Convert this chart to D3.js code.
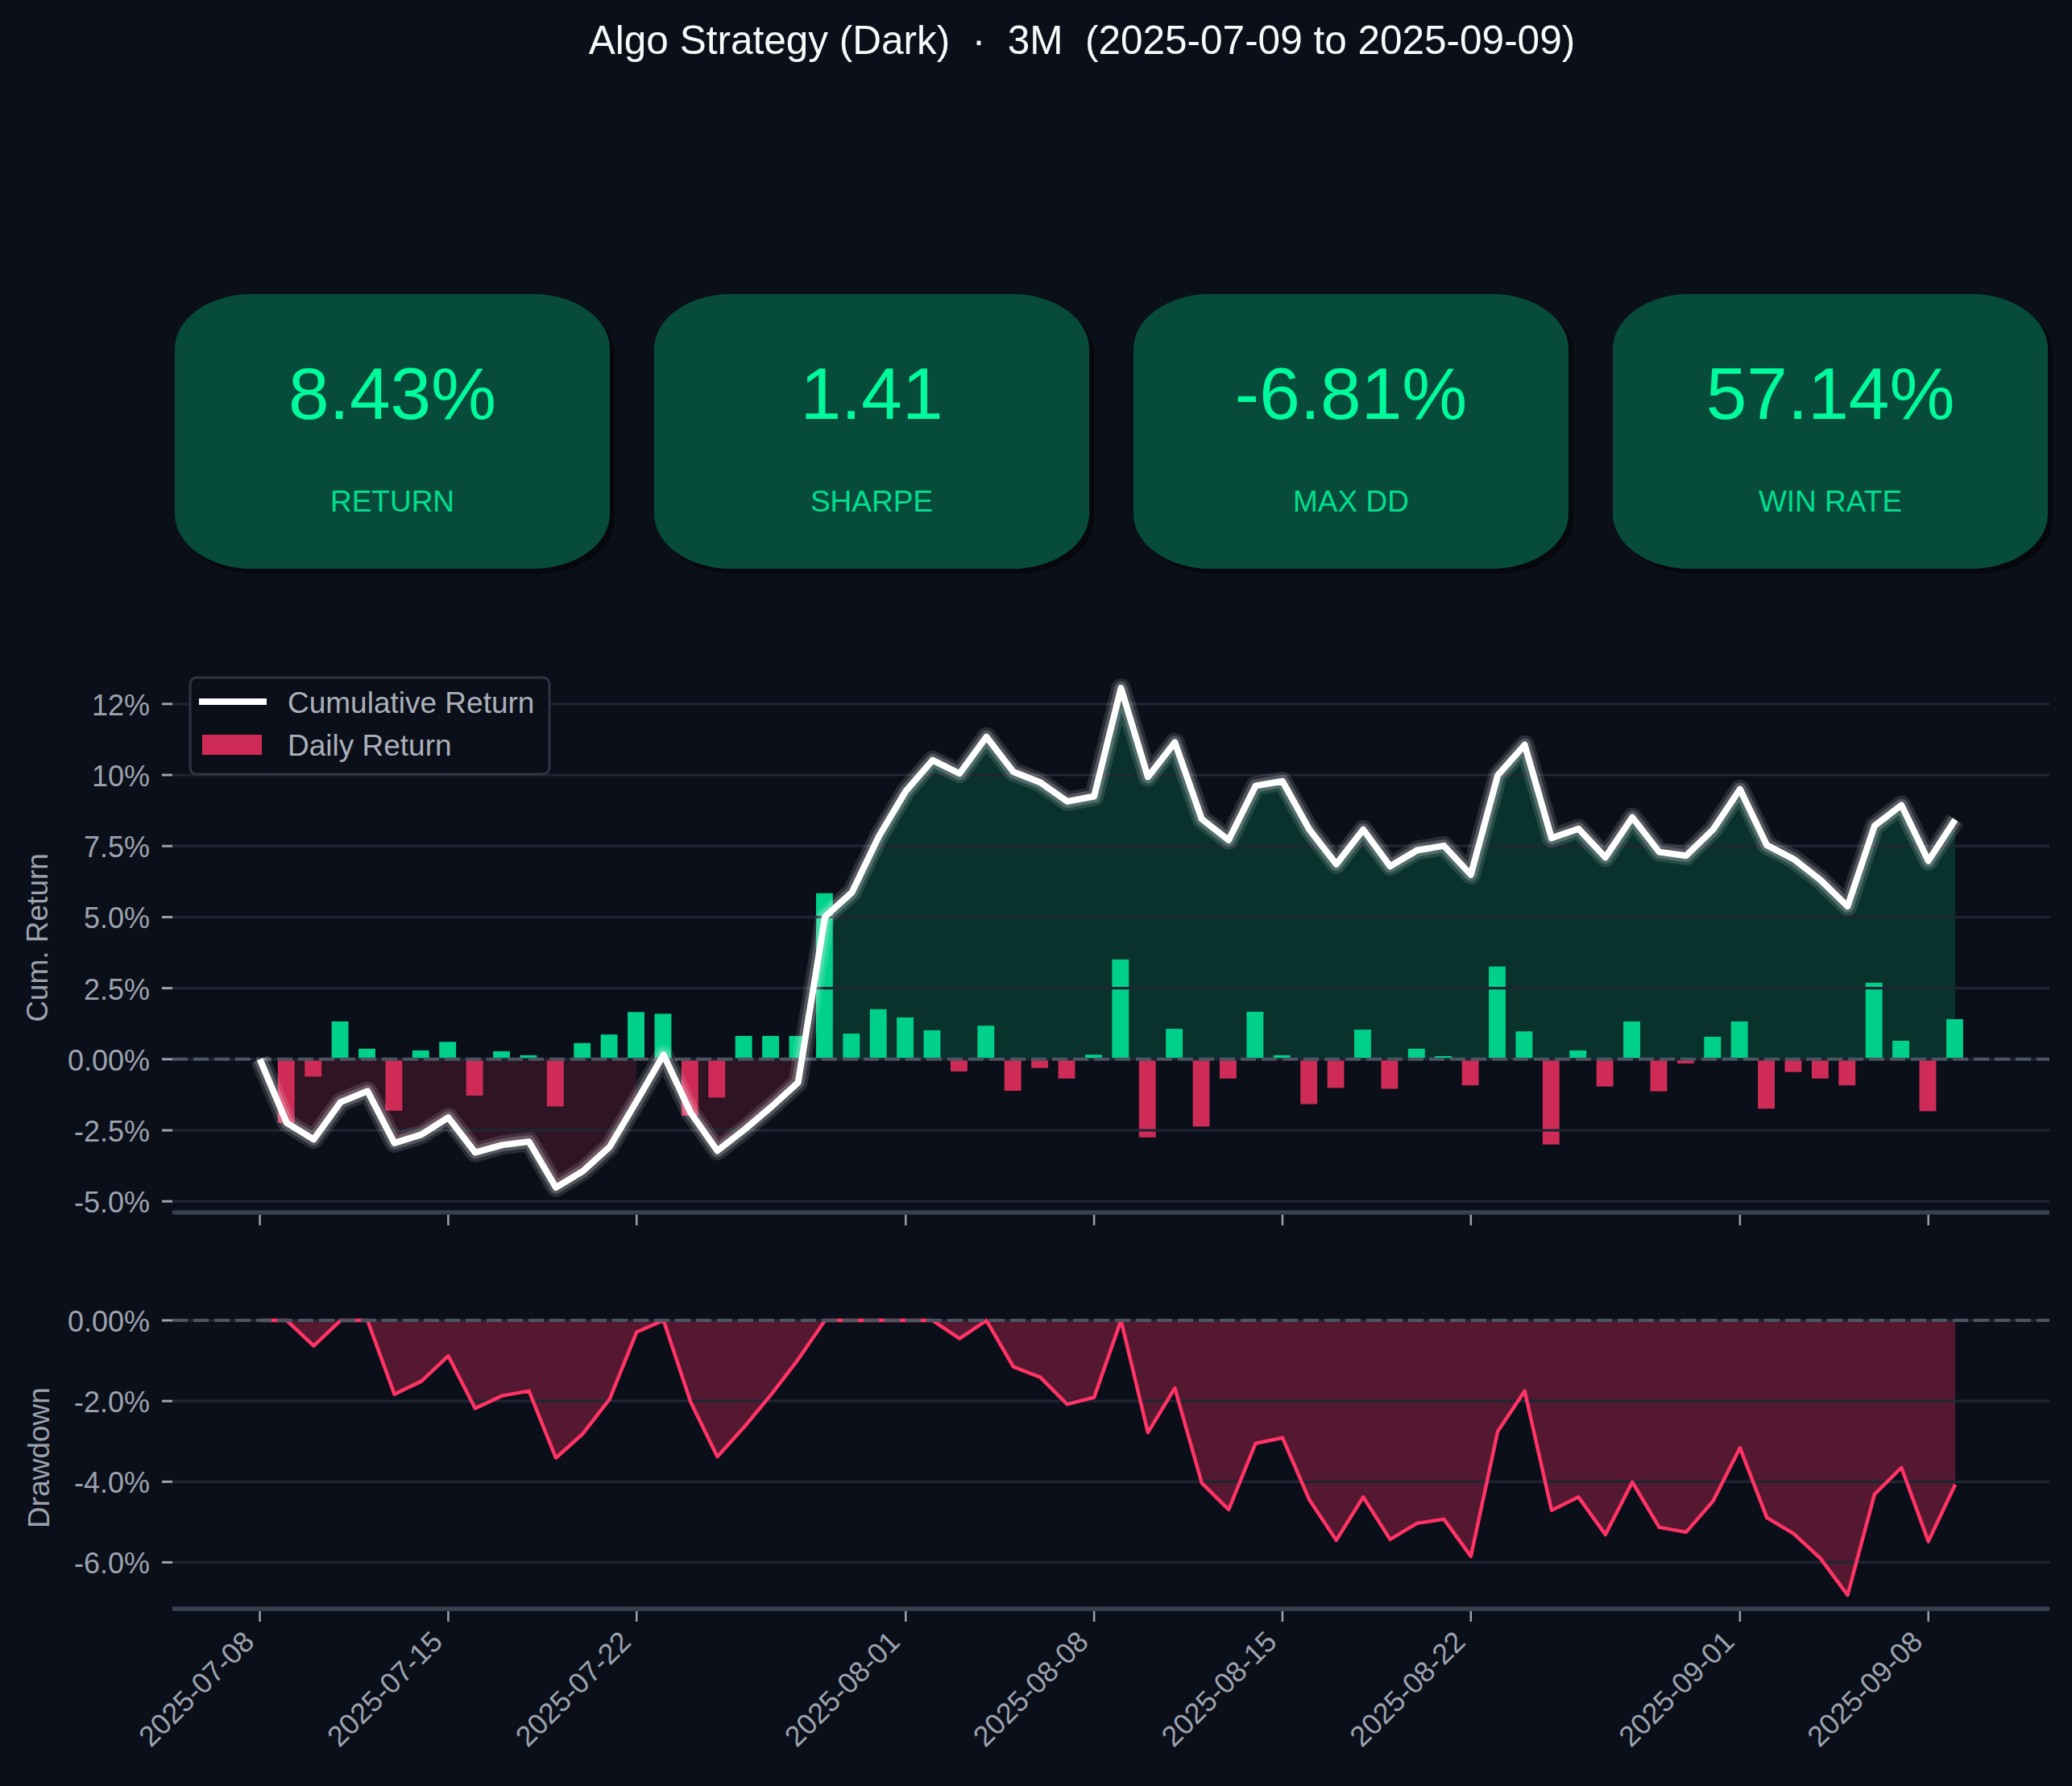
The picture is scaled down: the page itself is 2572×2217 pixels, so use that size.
<!DOCTYPE html>
<html>
<head>
<meta charset="utf-8">
<script src="https://cdn.jsdelivr.net/npm/d3@7"></script>
<style>
  html, body { margin: 0; padding: 0; background: #0b0f19; }
  svg { display: block; font-family: "Liberation Sans", Arial, Helvetica, sans-serif; }
</style>
</head>
<body>
<div id="chart"></div>
<script>
  const title = "Algo Strategy (Dark)  ·  3M  (2025-07-09 to 2025-09-09)";
  const startDate = "2025-07-08";
  const endDate = "2025-09-09";

  // cumulative return, %, one value per calendar day
  const cumReturn = [
    0.00, -2.24, -2.82, -1.51, -1.12, -2.95, -2.65, -2.05, -3.28, -3.02,
    -2.90, -4.51, -3.94, -3.08, -1.48, 0.16, -1.87, -3.22, -2.48, -1.68,
    -0.82, 5.01, 5.87, 7.84, 9.43, 10.52, 10.05, 11.34, 10.11, 9.74,
    9.07, 9.25, 13.06, 9.93, 11.15, 8.45, 7.71, 9.62, 9.78, 8.08,
    6.86, 8.08, 6.79, 7.35, 7.51, 6.49, 9.99, 11.06, 7.78, 8.11,
    7.10, 8.51, 7.29, 7.16, 8.08, 9.50, 7.53, 7.04, 6.30, 5.38,
    8.21, 8.94, 6.98, 8.43
  ];

  // daily return, %
  const dailyReturn = [
    0.00, -2.24, -0.61, 1.33, 0.37, -1.81, 0.31, 0.61, -1.28, 0.28,
    0.14, -1.66, 0.57, 0.87, 1.66, 1.60, -1.99, -1.35, 0.82, 0.82,
    0.82, 5.84, 0.90, 1.76, 1.47, 1.02, -0.43, 1.18, -1.11, -0.31,
    -0.68, 0.16, 3.51, -2.75, 1.07, -2.37, -0.68, 1.67, 0.14, -1.58,
    -1.01, 1.04, -1.04, 0.37, 0.11, -0.92, 3.26, 0.98, -3.00, 0.31,
    -0.96, 1.33, -1.13, -0.15, 0.79, 1.33, -1.74, -0.45, -0.68, -0.92,
    2.69, 0.65, -1.83, 1.41
  ];

  // drawdown, %
  const drawdown = [
    0.00, 0.00, -0.63, 0.00, 0.00, -1.83, -1.51, -0.88, -2.18, -1.87,
    -1.75, -3.41, -2.81, -1.95, -0.29, 0.00, -2.01, -3.38, -2.64, -1.84,
    -0.97, 0.00, 0.00, 0.00, 0.00, 0.00, -0.45, 0.00, -1.15, -1.41,
    -2.08, -1.91, 0.00, -2.78, -1.68, -4.03, -4.69, -3.05, -2.91, -4.45,
    -5.45, -4.38, -5.43, -5.03, -4.93, -5.85, -2.75, -1.75, -4.71, -4.38,
    -5.31, -4.01, -5.13, -5.25, -4.48, -3.16, -4.89, -5.29, -5.91, -6.81,
    -4.31, -3.65, -5.48, -4.07
  ];

  const kpiValues = ["8.43%", "1.41", "-6.81%", "57.14%"];
  const kpiLabels = ["RETURN", "SHARPE", "MAX DD", "WIN RATE"];

  const xTickLabels = ["2025-07-08", "2025-07-15", "2025-07-22", "2025-08-01", "2025-08-08",
                       "2025-08-15", "2025-08-22", "2025-09-01", "2025-09-08"];
  const cumTicks = [-5, -2.5, 0, 2.5, 5, 7.5, 10, 12.5];
  const cumTickLabels = ["-5.0%", "-2.5%", "0.00%", "2.5%", "5.0%", "7.5%", "10%", "12%"];
  const ddTicks = [-6, -4, -2, 0];
  const ddTickLabels = ["-6.0%", "-4.0%", "-2.0%", "0.00%"];

  const width = 2572, height = 2217;
  const bg = "#0b0f19", green = "#00d18a", red = "#ce2c57", pink = "#ff3366";
  const gridColor = "#1f2633", spineColor = "#374151", tickColor = "#9ca3af";

  const parse = d3.utcParse("%Y-%m-%d");
  const dates = d3.utcDay.range(parse(startDate), d3.utcDay.offset(parse(endDate), 1));
  const data = dates.map((d, i) => ({ date: d, cum: cumReturn[i], daily: dailyReturn[i], dd: drawdown[i] }));

  const left = 214, right = 2544;
  const x = d3.scaleUtc()
    .domain([d3.utcHour.offset(parse(startDate), -78), d3.utcHour.offset(parse(endDate), 84)])
    .range([left, right]);
  const y = d3.scaleLinear().domain([-5.39, 13.94]).range([1505, 823]);
  const yd = d3.scaleLinear().domain([-7.15, 0.34]).range([1997, 1622]);

  const svg = d3.select("#chart").append("svg")
    .attr("width", width)
    .attr("height", height);

  svg.append("rect").attr("width", width).attr("height", height).attr("fill", bg);

  // title
  svg.append("text")
    .attr("x", 1343).attr("y", 67)
    .attr("text-anchor", "middle")
    .attr("xml:space", "preserve")
    .style("white-space", "pre")
    .attr("font-size", 49.5)
    .attr("fill", "#f9fafb")
    .text(title);

  // KPI cards
  const cardW = 540, cardH = 341, cardY = 365;
  const cards = svg.append("g")
    .selectAll("g")
    .data(kpiValues)
    .join("g")
    .attr("transform", (d, i) => `translate(${217 + i * 595},${cardY})`);

  cards.append("rect")
    .attr("x", 6).attr("y", 6)
    .attr("width", cardW).attr("height", cardH)
    .attr("rx", 95).attr("ry", 68)
    .attr("fill", "#06080e");

  cards.append("rect")
    .attr("width", cardW).attr("height", cardH)
    .attr("rx", 95).attr("ry", 68)
    .attr("fill", "#074c3b");

  cards.append("text")
    .attr("x", cardW / 2).attr("y", 155)
    .attr("text-anchor", "middle")
    .attr("font-size", 91)
    .attr("fill", "#00fa9c")
    .text(d => d);

  cards.append("text")
    .attr("x", cardW / 2).attr("y", 270)
    .attr("text-anchor", "middle")
    .attr("font-size", 37)
    .attr("fill", "#00de8e")
    .text((d, i) => kpiLabels[i]);

  // ---- main panel ----
  function runs(test) {
    const out = [];
    let cur = [];
    data.forEach(d => {
      if (test(d.cum)) cur.push(d);
      else { if (cur.length) out.push(cur); cur = []; }
    });
    if (cur.length) out.push(cur);
    return out;
  }

  const cumArea = d3.area().x(d => x(d.date)).y0(y(0)).y1(d => y(d.cum));

  const main = svg.append("g");

  main.append("g")
    .selectAll("path")
    .data(runs(v => v > 0))
    .join("path")
    .attr("d", cumArea)
    .attr("fill", "#00ffa0")
    .attr("fill-opacity", 0.15);

  main.append("g")
    .selectAll("path")
    .data(runs(v => v < 0))
    .join("path")
    .attr("d", cumArea)
    .attr("fill", pink)
    .attr("fill-opacity", 0.15);

  const halfBar = 0.3 * 24; // hours
  main.append("g")
    .selectAll("rect")
    .data(data.filter(d => d.daily !== 0))
    .join("rect")
    .attr("x", d => x(d3.utcHour.offset(d.date, -halfBar)))
    .attr("width", d => x(d3.utcHour.offset(d.date, halfBar)) - x(d3.utcHour.offset(d.date, -halfBar)))
    .attr("y", d => y(Math.max(0, d.daily)))
    .attr("height", d => Math.abs(y(d.daily) - y(0)))
    .attr("fill", d => d.daily >= 0 ? green : red);

  main.append("g")
    .selectAll("line")
    .data(cumTicks)
    .join("line")
    .attr("x1", left).attr("x2", right)
    .attr("y1", d => y(d)).attr("y2", d => y(d))
    .attr("stroke", gridColor)
    .attr("stroke-width", 3.2);

  main.append("line")
    .attr("x1", left).attr("x2", right)
    .attr("y1", y(0)).attr("y2", y(0))
    .attr("stroke", "#4b5563")
    .attr("stroke-width", 4)
    .attr("stroke-dasharray", "19 7");

  const cumLine = d3.line().x(d => x(d.date)).y(d => y(d.cum));

  // glow under the cumulative line
  [[24, 0.12], [16, 0.2]].forEach(([w, o]) => {
    main.append("path")
      .datum(data)
      .attr("d", cumLine)
      .attr("fill", "none")
      .attr("stroke", "#ffffff")
      .attr("stroke-opacity", o)
      .attr("stroke-width", w)
      .attr("stroke-linejoin", "round");
  });

  main.append("path")
    .datum(data)
    .attr("d", cumLine)
    .attr("fill", "none")
    .attr("stroke", "#ffffff")
    .attr("stroke-width", 8)
    .attr("stroke-linejoin", "round");

  // y axis (main)
  main.append("g")
    .selectAll("line")
    .data(cumTicks)
    .join("line")
    .attr("x1", left - 13).attr("x2", left)
    .attr("y1", d => y(d)).attr("y2", d => y(d))
    .attr("stroke", tickColor)
    .attr("stroke-width", 3);

  main.append("g")
    .attr("font-size", 36)
    .attr("fill", tickColor)
    .attr("text-anchor", "end")
    .selectAll("text")
    .data(cumTicks)
    .join("text")
    .attr("x", 186)
    .attr("y", d => y(d) + 14)
    .text((d, i) => cumTickLabels[i]);

  main.append("text")
    .attr("transform", `translate(59,${(823 + 1505) / 2}) rotate(-90)`)
    .attr("text-anchor", "middle")
    .attr("font-size", 37)
    .attr("fill", tickColor)
    .text("Cum. Return");

  // ---- drawdown panel ----
  const dd = svg.append("g");

  dd.append("path")
    .datum(data)
    .attr("d", d3.area().x(d => x(d.date)).y0(yd(0)).y1(d => yd(d.dd)))
    .attr("fill", pink)
    .attr("fill-opacity", 0.3);

  dd.append("g")
    .selectAll("line")
    .data(ddTicks)
    .join("line")
    .attr("x1", left).attr("x2", right)
    .attr("y1", d => yd(d)).attr("y2", d => yd(d))
    .attr("stroke", gridColor)
    .attr("stroke-width", 3.2);

  dd.append("path")
    .datum(data)
    .attr("d", d3.line().x(d => x(d.date)).y(d => yd(d.dd)))
    .attr("fill", "none")
    .attr("stroke", pink)
    .attr("stroke-width", 4.5)
    .attr("stroke-linejoin", "round");

  dd.append("line")
    .attr("x1", left).attr("x2", right)
    .attr("y1", yd(0)).attr("y2", yd(0))
    .attr("stroke", "#4b5563")
    .attr("stroke-width", 4)
    .attr("stroke-dasharray", "19 7");

  dd.append("g")
    .selectAll("line")
    .data(ddTicks)
    .join("line")
    .attr("x1", left - 13).attr("x2", left)
    .attr("y1", d => yd(d)).attr("y2", d => yd(d))
    .attr("stroke", tickColor)
    .attr("stroke-width", 3);

  dd.append("g")
    .attr("font-size", 36)
    .attr("fill", tickColor)
    .attr("text-anchor", "end")
    .selectAll("text")
    .data(ddTicks)
    .join("text")
    .attr("x", 186)
    .attr("y", d => yd(d) + 14)
    .text((d, i) => ddTickLabels[i]);

  dd.append("text")
    .attr("transform", `translate(61,${(1622 + 1997) / 2}) rotate(-90)`)
    .attr("text-anchor", "middle")
    .attr("font-size", 37)
    .attr("fill", tickColor)
    .text("Drawdown");

  // bottom spines and x ticks
  const tickDates = xTickLabels.map(parse);
  [[1505, main], [1997, dd]].forEach(([sy, g]) => {
    g.append("line")
      .attr("x1", left).attr("x2", right)
      .attr("y1", sy).attr("y2", sy)
      .attr("stroke", spineColor)
      .attr("stroke-width", 5.5);
    g.append("g")
      .selectAll("line")
      .data(tickDates)
      .join("line")
      .attr("x1", d => x(d)).attr("x2", d => x(d))
      .attr("y1", sy + 3).attr("y2", sy + 16)
      .attr("stroke", tickColor)
      .attr("stroke-width", 2.5);
  });

  dd.append("g")
    .attr("font-size", 36)
    .attr("fill", tickColor)
    .attr("text-anchor", "end")
    .selectAll("text")
    .data(tickDates)
    .join("text")
    .attr("transform", d => `translate(${x(d) - 5},2040) rotate(-45)`)
    .text((d, i) => xTickLabels[i]);

  // legend
  const legend = svg.append("g").attr("transform", "translate(236,841)");
  legend.append("rect")
    .attr("width", 446).attr("height", 120)
    .attr("rx", 8)
    .attr("fill", bg)
    .attr("stroke", "#2e3543")
    .attr("stroke-width", 3);
  legend.append("line")
    .attr("x1", 11).attr("x2", 95)
    .attr("y1", 30).attr("y2", 30)
    .attr("stroke", "#ffffff")
    .attr("stroke-width", 8);
  legend.append("rect")
    .attr("x", 15).attr("y", 71)
    .attr("width", 74).attr("height", 25)
    .attr("fill", red);
  legend.append("g")
    .attr("font-size", 37)
    .attr("fill", "#aab0ba")
    .selectAll("text")
    .data(["Cumulative Return", "Daily Return"])
    .join("text")
    .attr("x", 121)
    .attr("y", (d, i) => 44 + i * 53)
    .text(d => d);
</script>
</body>
</html>
